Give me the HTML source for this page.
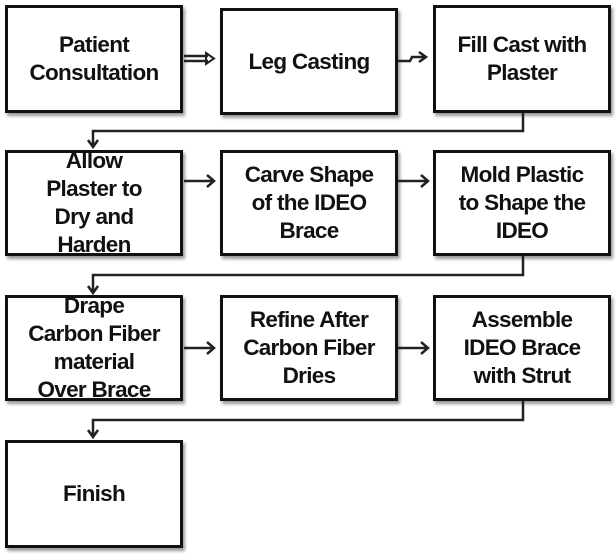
<!DOCTYPE html>
<html><head><style>
body{margin:0;width:616px;height:556px;background:#fff;position:relative;overflow:hidden;font-family:"Liberation Sans",sans-serif;}
.b{position:absolute;border:3px solid #111;box-sizing:border-box;display:flex;align-items:center;justify-content:center;text-align:center;font-weight:bold;font-size:22.5px;line-height:28px;letter-spacing:-0.7px;color:#111;box-shadow:2px 3px 3px #999;background:#fff;}
svg{position:absolute;left:0;top:0;}
</style></head><body>
<div class="b" style="left:5px;top:5px;width:178px;height:108px">Patient<br>Consultation</div>
<div class="b" style="left:220px;top:8px;width:178px;height:107px">Leg Casting</div>
<div class="b" style="left:433px;top:5px;width:178px;height:108px">Fill Cast with<br>Plaster</div>
<div class="b" style="left:5px;top:150px;width:178px;height:106px">Allow<br>Plaster to<br>Dry and<br>Harden</div>
<div class="b" style="left:220px;top:150px;width:178px;height:106px">Carve Shape<br>of the IDEO<br>Brace</div>
<div class="b" style="left:433px;top:150px;width:178px;height:106px">Mold Plastic<br>to Shape the<br>IDEO</div>
<div class="b" style="left:5px;top:295px;width:178px;height:106px">Drape<br>Carbon Fiber<br>material<br>Over Brace</div>
<div class="b" style="left:220px;top:295px;width:178px;height:106px">Refine After<br>Carbon Fiber<br>Dries</div>
<div class="b" style="left:433px;top:295px;width:178px;height:106px">Assemble<br>IDEO Brace<br>with Strut</div>
<div class="b" style="left:5px;top:440px;width:178px;height:108px">Finish</div>
<svg width="616" height="556" fill="none" stroke="#222" stroke-width="2.5">
<path d="M184 56H208M184 61H208"/><path d="M206 53L214 58.5L206 64Z" stroke-width="2"/>
<path d="M398 61H410L412 57H425M419 52L426 57L419 62"/>
<path d="M523 113V131H93V146M88 140L93 147L98 140"/>
<path d="M184 181H213M207 175L214 181L207 187"/>
<path d="M398 181H427M421 175L428 181L421 187"/>
<path d="M523 256V275H93V292M88 286L93 293L98 286"/>
<path d="M184 348H213M207 342L214 348L207 354"/>
<path d="M398 348H427M421 342L428 348L421 354"/>
<path d="M523 401V420H93V436M88 430L93 437L98 430"/>
</svg>
</body></html>
